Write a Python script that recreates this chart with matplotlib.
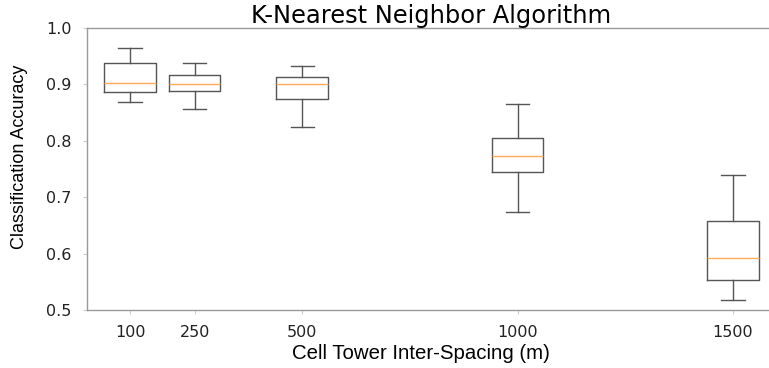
import matplotlib.pyplot as plt

# cell tower inter-spacing (m) and box statistics
spacings = [100, 250, 500, 1000, 1500]
whis_low = [0.869, 0.856, 0.824, 0.674, 0.517]
q1 = [0.8865, 0.888, 0.875, 0.744, 0.553]
median = [0.903, 0.901, 0.901, 0.7725, 0.592]
q3 = [0.9374, 0.917, 0.914, 0.8044, 0.658]
whis_high = [0.965, 0.9385, 0.932, 0.865, 0.739]

stats = []
for lo, a, m, b, hi in zip(whis_low, q1, median, q3, whis_high):
    stats.append({"whislo": lo, "q1": a, "med": m, "q3": b, "whishi": hi, "fliers": []})

fig = plt.figure(figsize=(7.69, 3.68), dpi=100)
ax = fig.add_axes([87 / 769, 58 / 368, 689 / 769, 282 / 368])

box_color = "#555555"
ax.bxp(stats, positions=spacings, widths=120, capwidths=54, showfliers=False,
       boxprops=dict(color=box_color, linewidth=1.0),
       whiskerprops=dict(color=box_color, linewidth=1.0),
       capprops=dict(color=box_color, linewidth=1.0),
       medianprops=dict(color="#ffaa55", linewidth=1.0))

ax.set_xlim(0, 1600)
ax.set_ylim(0.5, 1.0)
ax.set_xticks(spacings)
ax.set_xticklabels([str(s) for s in spacings])
ax.set_yticks([0.5, 0.6, 0.7, 0.8, 0.9, 1.0])
ax.set_yticklabels(["0.5", "0.6", "0.7", "0.8", "0.9", "1.0"])

for side in ["left", "bottom", "top", "right"]:
    ax.spines[side].set_color("#999999")
    ax.spines[side].set_linewidth(1.0)
ax.tick_params(axis="both", length=3, color="#cccccc", labelsize=11.5, labelcolor="#222222")
ax.tick_params(axis="y", pad=8)
ax.tick_params(axis="x", pad=8)
for lbl in ax.get_xticklabels() + ax.get_yticklabels():
    lbl.set_family("DejaVu Sans")

ax.set_title("K-Nearest Neighbor Algorithm", fontsize=17.4, family="DejaVu Sans", pad=2)
ax.set_xlabel("Cell Tower Inter-Spacing (m)", fontsize=14.7, family="Liberation Sans")
ax.set_ylabel("Classification Accuracy", fontsize=13, family="Liberation Sans")
# labels sit a bit off-centre in the original
ax.xaxis.set_label_coords(0.485, -0.122)
ax.yaxis.set_label_coords(-0.085, 0.544)

fig.savefig("out.png", dpi=100)
